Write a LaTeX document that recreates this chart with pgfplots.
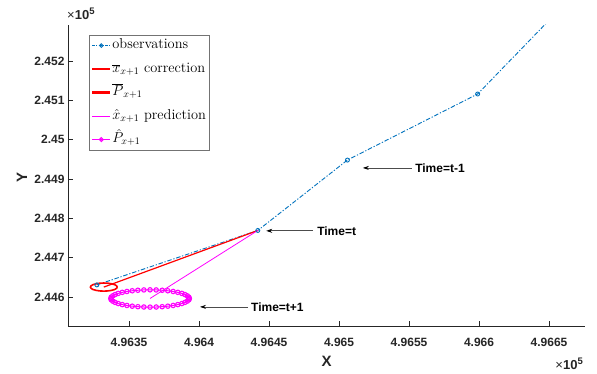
\documentclass[border=0pt]{standalone}
\usepackage{fontspec}
\usepackage{pgfplots}
\pgfplotsset{compat=1.18}
\usetikzlibrary{arrows.meta}
\newfontfamily\hel{Liberation Sans}
\definecolor{mblue}{rgb}{0,0.447,0.741}
\definecolor{mmag}{rgb}{1,0,1}
\definecolor{mred}{rgb}{1,0,0}
\definecolor{axgray}{rgb}{0.15,0.15,0.15}
\begin{document}
\begin{tikzpicture}
\useasboundingbox (-68pt,-48pt) rectangle (529pt,326pt);
\begin{axis}[
  name=ax, at={(0pt,0pt)}, anchor=south west,
  scale only axis, width=517pt, height=301pt,
  x coord trafo/.code={\pgfmathfloatparsenumber{#1}\pgfmathfloattosci{\pgfmathresult}\edef\pgfmathresult{\fpeval{\pgfmathresult-496000}}},
  y coord trafo/.code={\pgfmathfloatparsenumber{#1}\pgfmathfloattosci{\pgfmathresult}\edef\pgfmathresult{\fpeval{\pgfmathresult-244000}}},
  xmin=496306.4, xmax=496675.7, ymin=244526, ymax=245291.5,
  axis x line*=bottom, axis y line*=left,
  axis line style={axgray, line width=0.6pt},
  tick align=inside, major tick length=5pt, tick style={axgray, line width=0.6pt},
  xtick={496350,496400,496450,496500,496550,496600,496650},
  xticklabels={4.9635,4.964,4.9645,4.965,4.9655,4.966,4.9665},
  ytick={244600,244700,244800,244900,245000,245100,245200},
  yticklabels={2.446,2.447,2.448,2.449,2.45,2.451,2.452},
  ticklabel style={font=\hel\bfseries\fontsize{12}{14}\selectfont, text=axgray},
  xticklabel style={yshift=-9pt},
  legend cell align=left,
  legend style={at={(0.0406,0.968)}, anchor=north west, draw=black!55, inner sep=2pt,
    font=\fontsize{14.4}{17}\selectfont, row sep=6pt,
    nodes={inner sep=1pt, text height=11pt, text depth=4.5pt}},
]
\addplot[mblue, line width=0.9pt, dash pattern=on 4.5pt off 1.8pt on 1.2pt off 1.8pt,
  mark=o, mark size=2pt, mark options={solid, line width=0.9pt},
  legend image code/.code={
    \draw[mblue, line width=0.9pt, dash pattern=on 3pt off 1.2pt on 1pt off 1.2pt] (0pt,0pt) -- (18pt,0pt);
    \draw[mblue, line width=0.9pt, solid] (9pt,0pt) circle (1.8pt);}] coordinates {
  (496327,244630.5) (496442,244769) (496506,244948) (496599,245116) (496660,245340)};
\addlegendentry{observations}
\addplot[mred, line width=1.2pt,
  legend image code/.code={\draw[mred, line width=1.2pt] (0pt,0pt) -- (18pt,0pt);}]
  coordinates {(496442,244769) (496332,244625)};
\addlegendentry{$\overline{x}_{x+1}$ correction}
\addplot[mred, line width=1.6pt,
  legend image code/.code={\draw[mred, line width=2.2pt] (0pt,0pt) -- (18pt,0pt);}] coordinates {
  (496341.6,244625.0) (496341.1,244628.2) (496339.8,244631.1) (496337.6,244633.3)
  (496335.0,244634.8) (496332.0,244635.3) (496329.0,244634.8) (496326.4,244633.3)
  (496324.2,244631.1) (496322.9,244628.2) (496322.4,244625.0) (496322.9,244621.8)
  (496324.2,244618.9) (496326.4,244616.7) (496329.0,244615.2) (496332.0,244614.7)
  (496335.0,244615.2) (496337.6,244616.7) (496339.8,244618.9) (496341.1,244621.8)
  (496341.6,244625.0)};
\addlegendentry{$\overline{P}_{x+1}$}
\addplot[mmag, line width=0.8pt,
  legend image code/.code={\draw[mmag, line width=1.1pt] (0pt,0pt) -- (18pt,0pt);}]
  coordinates {(496442,244769) (496365,244596)};
\addlegendentry{$\hat{x}_{x+1}$ prediction}
\addplot[mmag, line width=1pt, mark=o, mark size=2.2pt, mark options={line width=1.1pt},
  legend image code/.code={
    \draw[mmag, line width=1pt] (0pt,0pt) -- (18pt,0pt);
    \draw[mmag, line width=1.1pt] (9pt,0pt) circle (1.9pt);}] coordinates {
  (496393.0,244596.0) (496392.7,244599.4) (496391.6,244602.8) (496389.9,244606.0)
  (496387.7,244608.9) (496384.8,244611.6) (496381.5,244613.8) (496377.7,244615.6)
  (496373.7,244616.9) (496369.4,244617.7) (496365.0,244618.0) (496360.6,244617.7)
  (496356.3,244616.9) (496352.3,244615.6) (496348.5,244613.8) (496345.2,244611.6)
  (496342.3,244608.9) (496340.1,244606.0) (496338.4,244602.8) (496337.3,244599.4)
  (496337.0,244596.0) (496337.3,244592.6) (496338.4,244589.2) (496340.1,244586.0)
  (496342.3,244583.1) (496345.2,244580.4) (496348.5,244578.2) (496352.3,244576.4)
  (496356.3,244575.1) (496360.6,244574.3) (496365.0,244574.0) (496369.4,244574.3)
  (496373.7,244575.1) (496377.7,244576.4) (496381.5,244578.2) (496384.8,244580.4)
  (496387.7,244583.1) (496389.9,244586.0) (496391.6,244589.2) (496392.7,244592.6)
  (496393.0,244596.0)};
\addlegendentry{$\hat{P}_{x+1}$}
% annotations
\draw[black!70, line width=0.7pt, -{Stealth[length=6pt,width=4pt,black]}]
  (axis cs:496481.4,244768) -- (axis cs:496448,244768);
\node[anchor=west, inner sep=0pt, font=\hel\bfseries\fontsize{12}{14}\selectfont]
  at (axis cs:496484.3,244768) {Time=t};
\draw[black!70, line width=0.7pt, -{Stealth[length=6pt,width=4pt,black]}]
  (axis cs:496435,244574.6) -- (axis cs:496400.7,244574.6);
\node[anchor=west, inner sep=0pt, font=\hel\bfseries\fontsize{12}{14}\selectfont]
  at (axis cs:496437.1,244574.6) {Time=t+1};
\draw[black!70, line width=0.7pt, -{Stealth[length=6pt,width=4pt,black]}]
  (axis cs:496552,244928) -- (axis cs:496517,244928);
\node[anchor=west, inner sep=0pt, font=\hel\bfseries\fontsize{12}{14}\selectfont]
  at (axis cs:496554.3,244928) {Time=t-1};
\end{axis}
\node[font=\hel\bfseries\fontsize{15}{17}\selectfont, text=axgray] at ([yshift=-35pt]ax.south) {X};
\node[font=\hel\bfseries\fontsize{15}{17}\selectfont, text=axgray, rotate=90] at ([xshift=-46pt,yshift=-2pt]ax.west) {Y};
\node[anchor=base west, inner sep=0pt, text=axgray] at ([xshift=-1pt,yshift=5pt]ax.north west)
  {\hel\fontsize{13}{15}\selectfont×\textbf{10}\raisebox{5.5pt}{\fontsize{9.5}{11}\selectfont\bfseries 5}};
\node[anchor=base east, inner sep=0pt, text=axgray] at ([xshift=-2pt,yshift=-44pt]ax.south east)
  {\hel\fontsize{13}{15}\selectfont×\textbf{10}\raisebox{5.5pt}{\fontsize{9.5}{11}\selectfont\bfseries 5}};
\end{tikzpicture}
\end{document}
